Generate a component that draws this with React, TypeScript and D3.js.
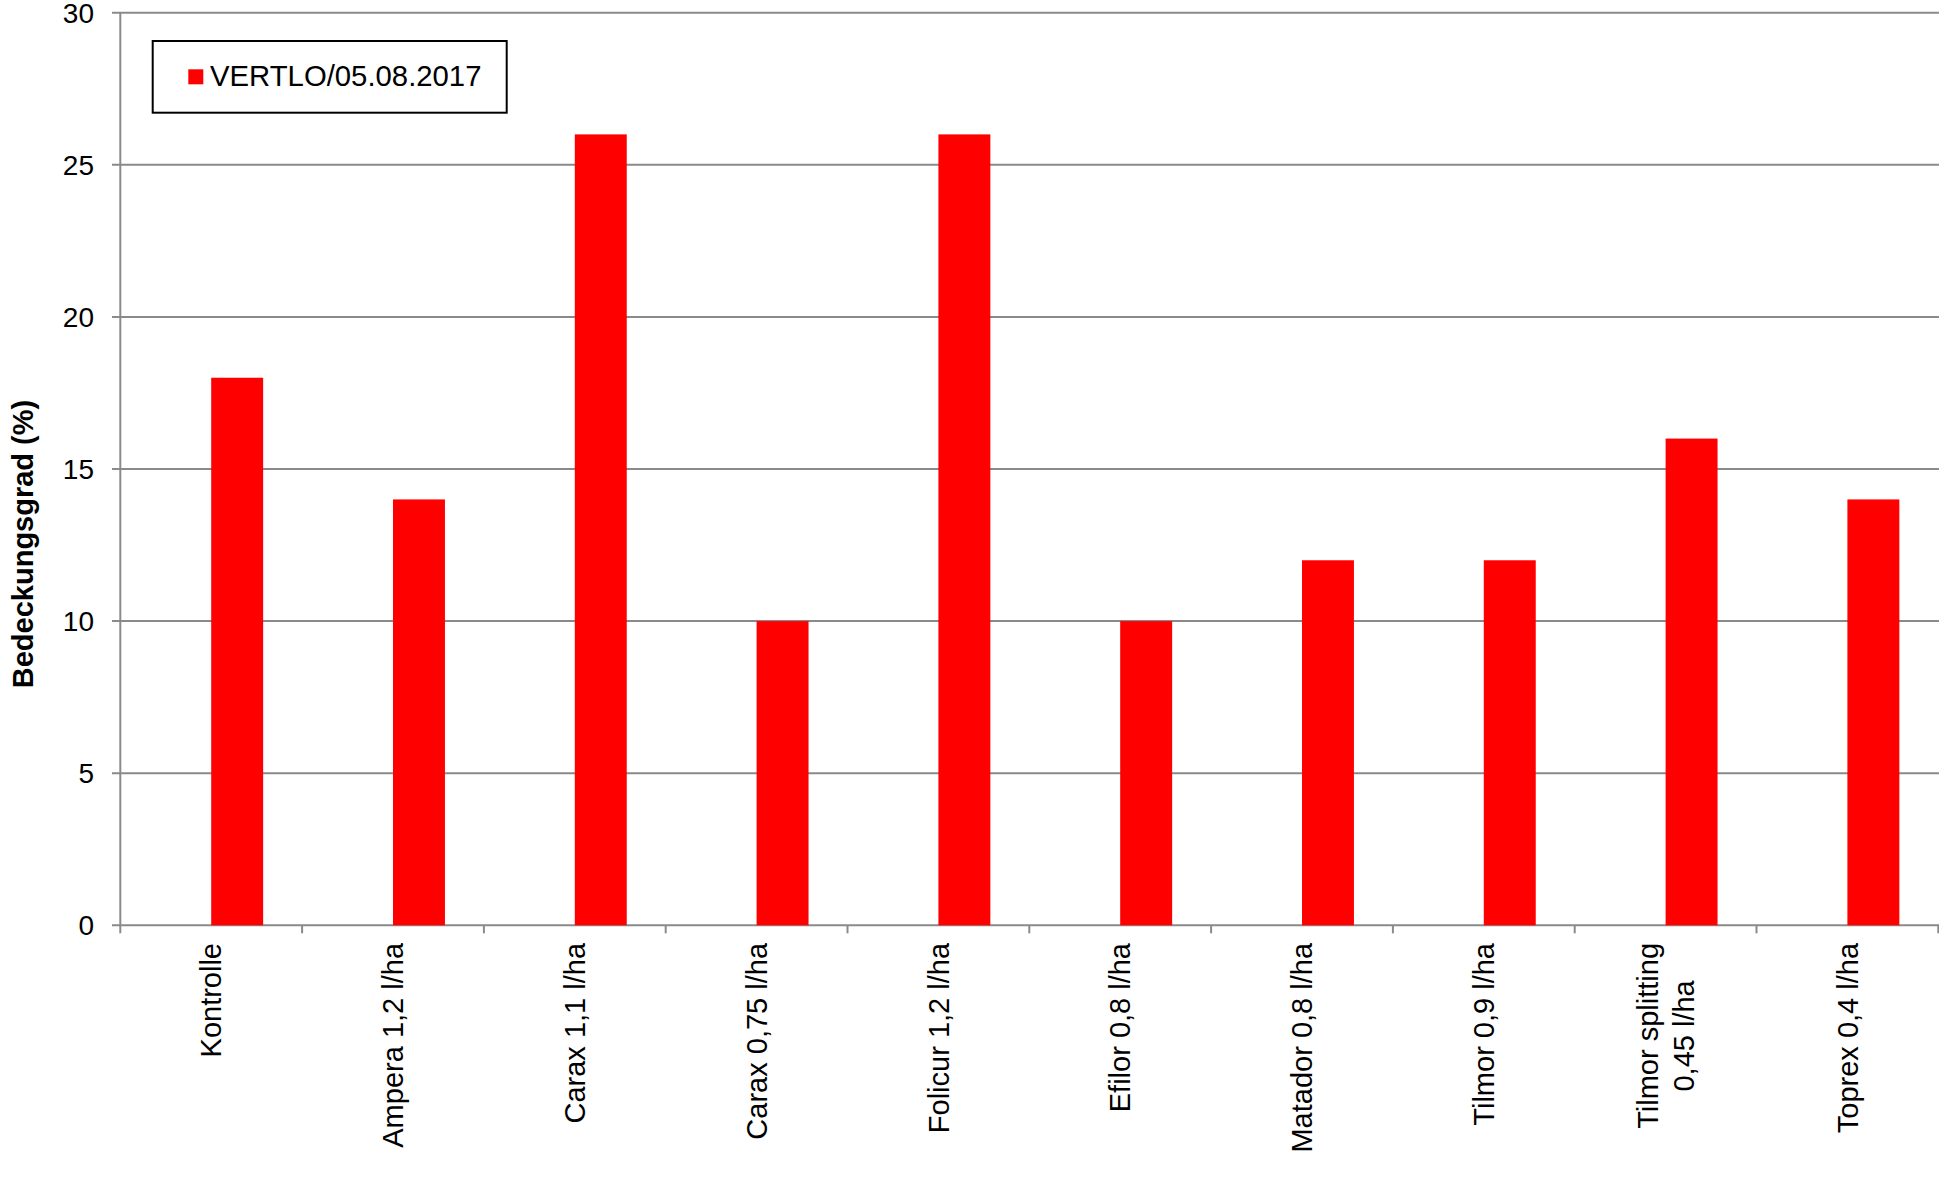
import React from "react";
import * as d3 from "d3";

const categories: string[][] = [
  ["Kontrolle"],
  ["Ampera 1,2 l/ha"],
  ["Carax 1,1 l/ha"],
  ["Carax 0,75 l/ha"],
  ["Folicur 1,2 l/ha"],
  ["Efilor 0,8 l/ha"],
  ["Matador 0,8 l/ha"],
  ["Tilmor 0,9 l/ha"],
  ["Tilmor splitting", "0,45 l/ha"],
  ["Toprex 0,4 l/ha"],
];
const values: number[] = [18, 14, 26, 10, 26, 10, 12, 12, 16, 14];
const yTicks: number[] = [0, 5, 10, 15, 20, 25, 30];
const seriesName = "VERTLO/05.08.2017";
const yTitle = "Bedeckungsgrad (%)";

const W = 1939;
const H = 1190;
const FONT = "'Liberation Sans', Arial, sans-serif";
const CAT_FS = 29;

let measureCtx: CanvasRenderingContext2D | null = null;
function textWidth(s: string, size: number): number {
  if (!measureCtx) {
    const c = document.createElement("canvas");
    measureCtx = c.getContext("2d");
  }
  if (!measureCtx) return s.length * size * 0.5;
  measureCtx.font = `${size}px 'Liberation Sans', Arial, sans-serif`;
  return measureCtx.measureText(s).width;
}

export default function App() {
  const left = 120.3;
  const right = 1938.3;
  const top = 12.7;
  const bottom = 925.3;
  const keys = categories.map((c) => c.join(" "));
  const x = d3.scaleBand<string>().domain(keys).range([left, right]).padding(0);
  const y = d3.scaleLinear().domain([0, 30]).range([bottom, top]);
  const bw = x.bandwidth();
  const barW = bw / 3.5;
  const grid = "#8a8a8a";
  const labelEnd = 943;
  const lineH = 36;

  return (
    <svg
      width={W}
      height={H}
      style={{ position: "absolute", left: 0, top: 0, background: "#fff" }}
      fontFamily={FONT}
    >
      {/* gridlines + y ticks */}
      {yTicks.map((t) => (
        <g key={t}>
          <line x1={112} x2={W} y1={y(t)} y2={y(t)} stroke={grid} strokeWidth={2} />
          <text
            x={94}
            y={y(t) + 10}
            textAnchor="end"
            fontSize={28}
            fill="#000"
          >
            {t}
          </text>
        </g>
      ))}
      {/* y axis line */}
      <line x1={left} x2={left} y1={top} y2={bottom + 8} stroke={grid} strokeWidth={2} />
      {/* x ticks */}
      {keys.map((k, i) => (
        <line
          key={"t" + i}
          x1={(x(k) as number) + bw}
          x2={(x(k) as number) + bw}
          y1={bottom}
          y2={bottom + 8}
          stroke={grid}
          strokeWidth={2}
        />
      ))}
      {/* bars */}
      {keys.map((k, i) => (
        <rect
          key={"b" + i}
          x={(x(k) as number) + bw / 2}
          y={y(values[i])}
          width={barW}
          height={bottom - y(values[i])}
          fill="#ff0000"
        />
      ))}
      {/* category labels */}
      {categories.map((lines, i) => {
        const cx = (x(keys[i]) as number) + bw / 2;
        const maxW = Math.max(...lines.map((l) => textWidth(l, CAT_FS)));
        const mid = labelEnd + maxW / 2;
        const n = lines.length;
        return (
          <g key={"c" + i}>
            {lines.map((l, j) => {
              const off = (j - (n - 1) / 2) * lineH;
              const bx = cx + off + CAT_FS * 0.355;
              return (
                <text
                  key={j}
                  transform={`translate(${bx},${mid}) rotate(-90)`}
                  textAnchor="middle"
                  fontSize={CAT_FS}
                  fill="#000"
                >
                  {l}
                </text>
              );
            })}
          </g>
        );
      })}
      {/* y title */}
      <text
        transform={`translate(${22 + 10.5},544) rotate(-90)`}
        textAnchor="middle"
        fontSize={29}
        fontWeight="bold"
        fill="#000"
      >
        {yTitle}
      </text>
      {/* legend */}
      <rect x={152.7} y={41} width={354} height={71.7} fill="#fff" stroke="#000" strokeWidth={2} />
      <rect x={188.3} y={69.3} width={15} height={15} fill="#ff0000" />
      <text x={210} y={85.5} fontSize={29.3} fill="#000">
        {seriesName}
      </text>
    </svg>
  );
}
